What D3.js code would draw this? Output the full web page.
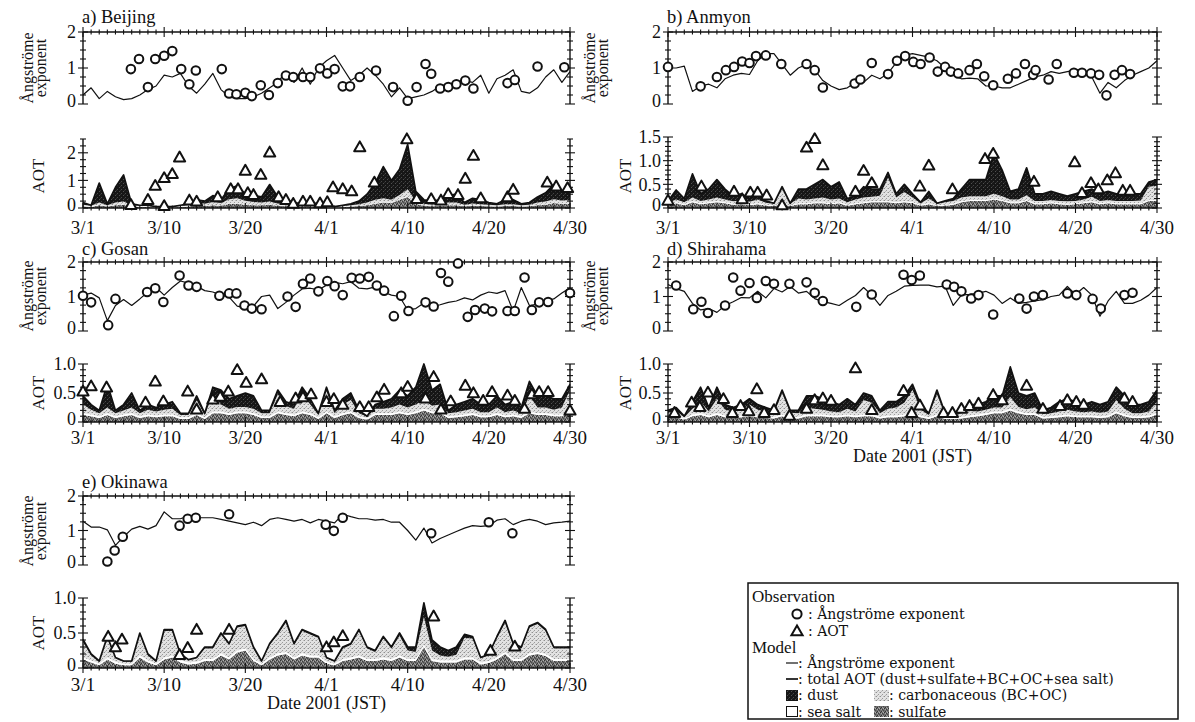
<!DOCTYPE html>
<html>
<head>
<meta charset="utf-8">
<script src="https://cdn.jsdelivr.net/npm/d3@7"></script>
<style>
  body { margin: 0; background: #fff; }
  svg text { font-family: "Liberation Serif", "Times New Roman", serif; fill: #111; }
  svg text.wide { font-family: "DejaVu Serif", serif; }
</style>
</head>
<body>
<svg id="chart" width="1195" height="722"></svg>
<script>
// ---------------- data ----------------
// day index: 0 = 1 March 2001 ... 60 = 30 April 2001 (JST)
const dayIndex = d3.range(0, 61);
const dateTicks = [0, 10, 20, 30, 40, 50, 60];
const dateTickLabels = ["3/1", "3/10", "3/20", "4/1", "4/10", "4/20", "4/30"];
const angTickValues = [0, 1, 2];
const angTickLabels = ["0", "1", "2"];
const aotTicksBeijing = [0, 1, 2];
const aotLabelsBeijing = ["0", "1", "2"];
const aotTicksAnmyon = [0, 0.5, 1.0, 1.5];
const aotLabelsAnmyon = ["0", "0.5", "1.0", "1.5"];
const aotTicksUnit = [0, 0.5, 1.0];
const aotLabelsUnit = ["0", "0.5", "1.0"];

// a) Beijing
const beijingAngModel = [0.25,0.45,0.15,0.35,0.2,0.12,0.15,0.25,0.4,0.5,
  0.8,0.75,0.85,0.5,0.3,0.55,0.85,0.4,0.2,0.15,
  0.15,0.2,0.3,0.45,0.6,0.9,0.6,1.0,0.55,1.0,
  1.2,1.35,1.0,0.65,0.8,1.0,0.8,0.55,0.2,0.45,
  0.15,0.2,0.25,0.35,0.5,0.55,0.6,0.65,0.6,0.8,
  0.3,0.7,0.8,0.95,0.35,0.3,0.45,0.75,0.95,0.6,
  0.9];
const beijingAngObs = [[5.9,0.97],[6.9,1.25],[8.0,0.47],[8.9,1.25],[10.0,1.34],[11.0,1.47],[12.1,0.97],[13.1,0.55],[13.9,0.93],
  [17.1,0.97],[18.0,0.29],[18.9,0.27],[20.0,0.31],[20.8,0.22],[21.9,0.52],[22.9,0.25],[24.0,0.58],[25.0,0.79],[25.9,0.75],
  [27.1,0.75],[28.0,0.75],[29.2,0.99],[30.1,0.85],[31.0,0.97],[32.0,0.49],[32.9,0.49],[34.1,0.75],[36.1,0.93],[38.2,0.47],
  [40.0,0.09],[41.1,0.47],[42.2,1.11],[42.9,0.84],[44.0,0.43],[45.0,0.47],[46.0,0.55],[47.1,0.65],[48.1,0.43],[52.3,0.58],
  [53.2,0.67],[56.0,1.04],[59.3,1.02]];
const beijingAotObs = [[5.9,0.12],[8.0,0.30],[8.9,0.81],[10.0,1.09],[11.0,1.24],[11.9,1.84],[10.0,0.08],[13.1,0.28],[14.0,0.24],
  [16.6,0.40],[18.2,0.69],[19.1,0.69],[20.0,1.36],[20.3,0.55],[21.0,0.48],[21.9,1.21],[23.0,2.02],[24.1,0.40],[25.0,0.30],
  [25.9,0.16],[27.1,0.24],[28.0,0.24],[29.2,0.18],[30.1,0.22],[30.8,0.76],[32.0,0.69],[33.1,0.61],[34.1,2.21],[35.9,0.93],
  [39.9,2.50],[41.1,0.33],[42.9,0.33],[44.1,0.28],[45.0,0.51],[46.2,0.48],[47.1,1.07],[48.1,1.90],[49.0,0.36],[52.3,0.40],
  [53.0,0.67],[57.2,0.93],[58.3,0.79],[59.7,0.73]];
const beijingSulfate = [0.06,0.04,0.1,0.05,0.1,0.12,0.05,0.04,0.04,0.02,
  0.02,0.02,0.04,0.05,0.08,0.07,0.1,0.08,0.15,0.15,
  0.12,0.1,0.1,0.12,0.08,0.06,0.05,0.05,0.05,0.04,
  0.03,0.02,0.03,0.05,0.07,0.1,0.15,0.2,0.18,0.3,
  0.4,0.15,0.08,0.06,0.08,0.1,0.1,0.06,0.08,0.07,
  0.06,0.05,0.07,0.07,0.05,0.06,0.1,0.12,0.18,0.15,
  0.15];
const beijingSeaSalt = [0.02,0.02,0.02,0.02,0.02,0.02,0.02,0.02,0.02,0.01,
  0.01,0.01,0.02,0.02,0.02,0.02,0.02,0.02,0.02,0.02,
  0.02,0.02,0.02,0.02,0.02,0.02,0.02,0.02,0.02,0.02,
  0.02,0.01,0.02,0.02,0.02,0.02,0.02,0.02,0.02,0.02,
  0.03,0.02,0.02,0.02,0.02,0.02,0.02,0.02,0.02,0.02,
  0.02,0.02,0.02,0.02,0.02,0.02,0.02,0.02,0.02,0.02,
  0.02];
const beijingCarbon = [0.04,0.02,0.08,0.03,0.08,0.1,0.03,0.02,0.02,0.01,
  0.01,0.01,0.02,0.04,0.08,0.06,0.1,0.08,0.15,0.18,
  0.12,0.1,0.08,0.1,0.06,0.05,0.04,0.03,0.04,0.03,
  0.02,0.01,0.02,0.03,0.05,0.08,0.13,0.13,0.1,0.15,
  0.25,0.08,0.05,0.04,0.05,0.08,0.08,0.04,0.06,0.05,
  0.04,0.03,0.05,0.05,0.03,0.04,0.08,0.1,0.12,0.1,
  0.12];
const beijingDust = [0.08,0.02,0.7,0.05,0.55,0.96,0.05,0.02,0.02,0.01,
  0.01,0.01,0.02,0.04,0.12,0.1,0.23,0.12,0.38,0.45,
  0.24,0.23,0.2,0.61,0.24,0.17,0.09,0.05,0.09,0.06,
  0.03,0.01,0.03,0.05,0.11,0.3,0.6,1.15,0.7,0.93,
  1.62,0.35,0.15,0.13,0.15,0.25,0.3,0.08,0.19,0.16,
  0.08,0.05,0.16,0.16,0.05,0.08,0.2,0.31,0.53,0.33,
  0.41];

// b) Anmyon
const anmyonAngModel = [1.0,1.0,1.05,0.35,0.5,0.55,0.45,0.7,0.8,0.85,
  0.82,1.2,1.4,1.4,1.1,0.8,1.0,1.1,0.95,0.65,
  0.5,0.4,0.45,0.6,0.6,0.8,0.7,0.85,1.15,1.35,
  1.4,1.35,1.3,1.2,1.0,0.8,0.7,0.72,0.7,0.5,
  0.5,0.45,0.45,0.55,0.65,0.75,0.8,0.9,0.85,0.9,
  0.95,0.95,0.75,0.3,0.6,0.45,0.65,0.8,0.9,1.0,
  1.2];
const anmyonAngObs = [[0,1.03],[4,0.49],[6,0.75],[7.1,0.94],[8.1,1.03],[9.1,1.18],[10,1.14],[10.8,1.33],[12,1.35],[13.9,1.11],
  [17,1.11],[18,0.94],[19,0.46],[22.9,0.57],[23.6,0.68],[25,1.14],[27,0.83],[28.1,1.2],[29.1,1.33],[30.1,1.17],
  [31,1.11],[32.1,1.29],[33.1,0.90],[34,1.03],[34.7,0.9],[35.6,0.85],[37,0.94],[37.9,1.11],[38.8,0.77],[39.9,0.52],
  [41.7,0.70],[42.7,0.85],[43.8,1.11],[44.8,0.81],[45.1,0.94],[46.7,0.68],[47.7,1.11],[49.8,0.87],[50.8,0.87],[51.9,0.85],
  [52.9,0.81],[53.8,0.24],[54.8,0.81],[55.7,0.94],[56.7,0.83]];
const anmyonAotObs = [[0,0.16],[4.1,0.46],[8.1,0.35],[9.1,0.19],[10.1,0.33],[11,0.33],[12.1,0.27],[14,0.06],[17,1.28],[18,1.46],
  [19,0.91],[23,0.35],[24,0.79],[25,0.53],[30.9,0.46],[32,0.90],[34.9,0.40],[38.9,1.04],[39.9,1.15],[44.9,0.56],
  [49.9,0.97],[50.8,0.32],[51.9,0.53],[52.8,0.40],[53.9,0.59],[54.9,0.74],[55.8,0.37],[56.7,0.37]];
const anmyonSulfate = [0.05,0.1,0.06,0.12,0.08,0.1,0.12,0.1,0.07,0.08,
  0.06,0.08,0.05,0.04,0.08,0.04,0.08,0.08,0.1,0.1,
  0.08,0.1,0.05,0.08,0.1,0.12,0.12,0.12,0.1,0.12,
  0.1,0.05,0.08,0.04,0.05,0.07,0.12,0.15,0.15,0.15,
  0.18,0.15,0.1,0.1,0.15,0.08,0.08,0.1,0.08,0.07,
  0.08,0.1,0.12,0.08,0.1,0.08,0.08,0.08,0.08,0.15,
  0.15];
const anmyonSeaSalt = [0.02,0.02,0.02,0.02,0.02,0.02,0.02,0.02,0.02,0.02,
  0.02,0.02,0.02,0.02,0.02,0.02,0.02,0.02,0.02,0.02,
  0.02,0.02,0.02,0.02,0.02,0.02,0.02,0.02,0.02,0.02,
  0.02,0.02,0.02,0.02,0.02,0.02,0.02,0.02,0.02,0.02,
  0.02,0.02,0.02,0.02,0.02,0.02,0.02,0.02,0.02,0.02,
  0.02,0.02,0.02,0.02,0.02,0.02,0.02,0.02,0.02,0.02,
  0.02];
const anmyonCarbon = [0.04,0.06,0.04,0.08,0.05,0.06,0.08,0.06,0.05,0.06,
  0.05,0.08,0.04,0.03,0.3,0.03,0.1,0.08,0.08,0.1,
  0.08,0.08,0.05,0.08,0.1,0.1,0.12,0.5,0.1,0.2,
  0.1,0.03,0.1,0.03,0.05,0.06,0.08,0.08,0.08,0.08,
  0.1,0.08,0.06,0.06,0.1,0.05,0.05,0.05,0.05,0.05,
  0.05,0.06,0.1,0.05,0.05,0.05,0.05,0.05,0.06,0.28,
  0.3];
const anmyonDust = [0.04,0.2,0.08,0.5,0.15,0.22,0.38,0.22,0.11,0.14,
  0.07,0.12,0.04,0.01,0.05,0.01,0.2,0.22,0.3,0.38,
  0.27,0.35,0.08,0.07,0.23,0.16,0.14,0.11,0.08,0.16,
  0.08,0.02,0.15,0.01,0.03,0.05,0.18,0.35,0.35,0.35,
  0.85,0.55,0.17,0.22,0.58,0.15,0.15,0.18,0.15,0.11,
  0.15,0.17,0.16,0.15,0.18,0.15,0.15,0.15,0.14,0.1,
  0.13];

// c) Gosan
const gosanAngModel = [1.04,1.10,0.96,0.30,0.74,0.91,0.74,0.93,1.13,1.26,
  1.04,1.26,1.45,1.39,1.30,1.17,1.13,1.04,0.98,0.72,
  0.67,0.72,1.00,1.04,0.65,0.83,1.04,1.22,1.24,1.19,
  1.33,1.41,1.37,1.43,1.24,1.22,1.28,1.13,1.04,1.00,
  0.61,0.65,0.81,0.70,0.76,0.83,0.87,0.96,0.90,1.04,
  1.13,1.09,1.17,0.57,1.26,0.74,0.78,0.87,0.93,1.10,
  1.25];
const gosanAngObs = [[0,1.02],[1,0.83],[3.1,0.17],[4,0.93],[7.9,1.13],[8.9,1.24],[9.9,0.84],[11.9,1.61],[13,1.32],[14,1.28],
  [16.8,1.02],[18,1.09],[18.9,1.09],[19.9,0.74],[20.8,0.65],[22,0.63],[25.2,1.0],[26.2,0.70],[27.1,1.37],[28,1.52],
  [29,1.15],[30.1,1.45],[31,1.30],[32,1.04],[33.1,1.54],[34.1,1.52],[35.2,1.57],[36.2,1.32],[37.1,1.17],[39.2,1.02],
  [38.3,0.43],[40.1,0.58],[42.2,0.83],[43.2,0.71],[44.1,1.68],[45,1.43],[46.2,1.96],[47.4,0.41],[48.3,0.61],[49.5,0.65],
  [50.4,0.57],[52.3,0.58],[53.2,0.58],[54.4,1.55],[55.3,0.61],[56.2,0.83],[57.3,0.84],[60,1.10]];
const gosanAotObs = [[0,0.53],[1,0.62],[2.9,0.60],[7.7,0.34],[8.9,0.70],[9.9,0.36],[12.9,0.53],[14,0.22],[16,0.39],[16.9,0.44],
  [17.9,0.53],[19,0.90],[20.1,0.68],[22,0.74],[24.3,0.35],[26.2,0.41],[27.1,0.43],[28.1,0.48],[30,0.35],[30.9,0.40],
  [32,0.30],[34.1,0.26],[35.2,0.26],[36.2,0.43],[37.1,0.56],[39.2,0.50],[40,0.61],[42.2,0.41],[43.2,0.78],[44.1,0.22],
  [45.3,0.36],[47.1,0.63],[48.1,0.50],[49.3,0.37],[50.4,0.52],[52.3,0.46],[53.2,0.37],[54.4,0.23],[55.3,0.48],[56.2,0.52],
  [57.3,0.52],[60,0.2]];
const gosanSulfate = [0.12,0.1,0.07,0.12,0.07,0.1,0.12,0.07,0.1,0.08,
  0.1,0.1,0.05,0.05,0.12,0.05,0.15,0.15,0.12,0.15,
  0.15,0.12,0.07,0.07,0.15,0.12,0.1,0.15,0.12,0.05,
  0.15,0.07,0.12,0.15,0.07,0.04,0.12,0.12,0.12,0.15,
  0.12,0.15,0.2,0.15,0.15,0.07,0.08,0.1,0.12,0.08,
  0.08,0.12,0.08,0.1,0.07,0.15,0.12,0.12,0.1,0.1,
  0.18];
const gosanSeaSalt = [0.03,0.03,0.03,0.03,0.03,0.03,0.03,0.03,0.03,0.03,
  0.03,0.03,0.03,0.03,0.03,0.03,0.03,0.03,0.03,0.03,
  0.03,0.03,0.03,0.03,0.03,0.03,0.03,0.03,0.03,0.03,
  0.03,0.03,0.03,0.03,0.03,0.03,0.03,0.03,0.03,0.03,
  0.03,0.03,0.03,0.03,0.03,0.03,0.03,0.03,0.03,0.03,
  0.03,0.03,0.03,0.03,0.03,0.03,0.03,0.03,0.03,0.03,
  0.03];
const gosanCarbon = [0.15,0.08,0.05,0.1,0.05,0.07,0.1,0.05,0.08,0.07,
  0.08,0.1,0.04,0.04,0.22,0.04,0.3,0.12,0.08,0.08,
  0.08,0.08,0.05,0.05,0.3,0.12,0.1,0.32,0.15,0.04,
  0.35,0.05,0.15,0.2,0.05,0.02,0.08,0.08,0.1,0.12,
  0.1,0.12,0.15,0.1,0.12,0.05,0.06,0.07,0.08,0.06,
  0.06,0.1,0.06,0.07,0.05,0.27,0.1,0.1,0.08,0.12,
  0.34];
const gosanDust = [0.15,0.09,0.05,0.4,0.05,0.1,0.25,0.05,0.09,0.07,
  0.09,0.12,0.03,0.03,0.08,0.03,0.12,0.25,0.17,0.19,
  0.24,0.22,0.05,0.05,0.07,0.08,0.07,0.1,0.1,0.03,
  0.07,0.05,0.1,0.12,0.05,0.01,0.07,0.12,0.15,0.25,
  0.2,0.3,0.62,0.27,0.35,0.05,0.13,0.15,0.17,0.13,
  0.13,0.2,0.13,0.15,0.1,0.25,0.2,0.2,0.19,0.15,
  0.1];

// d) Shirahama
const shirahamaAngModel = [1.35,1.23,1.15,0.80,0.61,0.65,0.54,0.74,0.85,0.97,
  0.96,1.15,0.96,1.23,1.13,1.29,1.10,1.15,0.94,0.85,
  0.80,0.74,0.89,1.03,1.26,1.04,0.74,1.03,1.15,1.30,
  1.32,1.33,1.33,1.28,1.30,0.74,1.04,1.06,1.09,1.15,
  1.04,0.80,0.96,0.80,0.83,0.87,0.91,1.00,1.04,1.29,
  1.06,1.26,1.04,0.43,0.87,1.15,0.80,0.80,0.89,1.04,
  1.26];
const shirahamaAngObs = [[1,1.32],[3.1,0.63],[4.1,0.85],[4.9,0.52],[7,0.74],[8,1.55],[8.9,1.17],[10,1.39],[10.9,0.96],[12,1.45],
  [13,1.37],[14.9,1.37],[17,1.41],[18,1.11],[19,0.87],[23.1,0.70],[25,1.06],[28.9,1.63],[29.9,1.48],[30.9,1.61],
  [34.2,1.35],[35.1,1.28],[36,1.15],[37.2,0.94],[38.1,1.04],[39.9,0.48],[43.1,0.94],[44,0.65],[44.9,1.0],[46,1.04],
  [49,1.09],[50.1,1.04],[52.1,0.93],[53.1,0.65],[56,1.04],[57,1.11]];
const shirahamaAotObs = [[0.8,0.16],[2.9,0.34],[3.9,0.26],[4.9,0.51],[6.8,0.40],[7.9,0.16],[8.9,0.28],[9.9,0.19],[10.9,0.57],[11.8,0.16],
  [13,0.21],[14.9,0.11],[17,0.23],[18,0.38],[19,0.41],[20,0.37],[23,0.93],[25,0.21],[28.9,0.54],[29.9,0.16],
  [30.9,0.29],[33.8,0.16],[34.9,0.16],[36,0.23],[37,0.28],[38.1,0.32],[39.9,0.47],[41,0.38],[44,0.63],[46,0.23],
  [48.1,0.28],[49,0.38],[50.1,0.35],[51,0.30],[56,0.41],[57,0.35]];
const shirahamaSulfate = [0.08,0.08,0.04,0.1,0.12,0.08,0.12,0.08,0.07,0.08,
  0.1,0.08,0.07,0.06,0.1,0.06,0.06,0.1,0.1,0.1,
  0.08,0.08,0.1,0.08,0.1,0.1,0.06,0.08,0.08,0.1,
  0.12,0.08,0.05,0.1,0.05,0.05,0.06,0.08,0.1,0.12,
  0.15,0.15,0.2,0.15,0.12,0.12,0.06,0.07,0.08,0.1,
  0.08,0.08,0.08,0.07,0.08,0.15,0.1,0.07,0.07,0.08,
  0.12];
const shirahamaSeaSalt = [0.03,0.03,0.02,0.03,0.03,0.03,0.03,0.03,0.03,0.03,
  0.03,0.03,0.03,0.03,0.03,0.03,0.03,0.03,0.03,0.03,
  0.03,0.03,0.03,0.03,0.03,0.03,0.03,0.03,0.03,0.03,
  0.03,0.03,0.03,0.03,0.03,0.03,0.03,0.03,0.03,0.03,
  0.03,0.03,0.03,0.03,0.03,0.03,0.03,0.03,0.03,0.03,
  0.03,0.03,0.03,0.03,0.03,0.03,0.03,0.03,0.03,0.03,
  0.03];
const shirahamaCarbon = [0.05,0.08,0.02,0.1,0.2,0.07,0.25,0.1,0.08,0.1,
  0.17,0.1,0.08,0.06,0.37,0.07,0.06,0.12,0.1,0.08,
  0.07,0.06,0.1,0.07,0.25,0.2,0.06,0.12,0.14,0.2,
  0.4,0.1,0.04,0.35,0.04,0.04,0.06,0.08,0.05,0.06,
  0.07,0.07,0.2,0.08,0.07,0.1,0.05,0.05,0.07,0.08,
  0.07,0.06,0.07,0.06,0.07,0.2,0.1,0.05,0.05,0.07,
  0.2];
const shirahamaDust = [0.04,0.06,0.02,0.12,0.25,0.07,0.2,0.09,0.07,0.09,
  0.1,0.09,0.07,0.05,0.05,0.04,0.05,0.2,0.22,0.19,
  0.17,0.13,0.17,0.12,0.12,0.12,0.05,0.12,0.1,0.12,
  0.1,0.09,0.03,0.07,0.03,0.03,0.05,0.11,0.12,0.14,
  0.2,0.2,0.52,0.24,0.23,0.25,0.06,0.1,0.17,0.19,
  0.17,0.13,0.17,0.14,0.17,0.22,0.22,0.15,0.15,0.17,
  0.2];

// e) Okinawa
const okinawaAngModel = [1.27,1.10,1.10,1.02,0.57,0.82,1.04,1.12,1.04,1.14,
  1.54,1.34,1.34,1.42,1.37,1.37,1.37,1.32,1.27,1.22,
  1.17,1.24,1.14,1.32,1.37,1.32,1.27,1.32,1.22,1.32,
  1.27,1.22,1.47,1.40,1.34,1.34,1.30,1.32,1.24,1.24,
  1.00,0.72,1.07,0.64,0.77,0.87,0.97,1.07,1.14,1.12,
  1.14,1.30,1.34,1.17,1.27,1.32,1.27,1.17,1.22,1.24,
  1.27];
const okinawaAngObs = [[3,0.10],[3.9,0.42],[4.9,0.82],[11.9,1.14],[12.9,1.34],[13.9,1.37],[18,1.47],[29.9,1.17],[30.9,0.99],[32,1.37],
  [42.9,0.92],[50,1.24],[52.9,0.92]];
const okinawaAotObs = [[3.1,0.45],[4,0.30],[4.8,0.41],[11.9,0.19],[12.9,0.29],[14,0.55],[18,0.55],[30,0.30],[30.9,0.37],[32,0.46],
  [43.2,0.74],[50.2,0.25],[53.2,0.31]];
const okinawaSulfate = [0.12,0.08,0.04,0.12,0.06,0.04,0.04,0.15,0.08,0.04,
  0.12,0.15,0.08,0.05,0.06,0.1,0.1,0.18,0.12,0.22,
  0.25,0.1,0.04,0.12,0.18,0.2,0.12,0.18,0.15,0.15,
  0.06,0.04,0.1,0.12,0.15,0.1,0.1,0.12,0.1,0.15,
  0.1,0.1,0.3,0.1,0.08,0.08,0.08,0.12,0.12,0.05,
  0.07,0.12,0.2,0.1,0.1,0.18,0.2,0.17,0.1,0.1,
  0.1];
const okinawaSeaSalt = [0.03,0.03,0.02,0.03,0.03,0.02,0.02,0.03,0.03,0.02,
  0.03,0.03,0.03,0.03,0.03,0.03,0.03,0.03,0.03,0.03,
  0.03,0.03,0.02,0.03,0.03,0.03,0.03,0.03,0.03,0.03,
  0.03,0.02,0.03,0.03,0.03,0.03,0.03,0.03,0.03,0.03,
  0.03,0.03,0.03,0.03,0.03,0.03,0.03,0.03,0.03,0.03,
  0.03,0.03,0.03,0.03,0.03,0.03,0.03,0.03,0.03,0.03,
  0.03];
const okinawaCarbon = [0.22,0.07,0.03,0.28,0.05,0.03,0.03,0.3,0.07,0.03,
  0.38,0.35,0.07,0.03,0.05,0.15,0.15,0.27,0.18,0.33,
  0.32,0.15,0.03,0.18,0.27,0.42,0.18,0.32,0.3,0.25,
  0.05,0.03,0.15,0.18,0.35,0.15,0.1,0.28,0.15,0.28,
  0.12,0.1,0.4,0.12,0.07,0.05,0.08,0.28,0.27,0.06,
  0.08,0.28,0.42,0.2,0.15,0.37,0.4,0.33,0.15,0.15,
  0.15];
const okinawaDust = [0.04,0.02,0.01,0.02,0.01,0.01,0.01,0.02,0.02,0.01,
  0.02,0.02,0.02,0.01,0.01,0.02,0.02,0.02,0.02,0.02,
  0.02,0.02,0.01,0.02,0.02,0.03,0.02,0.02,0.02,0.02,
  0.01,0.01,0.02,0.02,0.02,0.02,0.02,0.02,0.02,0.04,
  0.05,0.07,0.2,0.15,0.12,0.09,0.11,0.05,0.03,0.01,
  0.02,0.02,0.03,0.02,0.02,0.02,0.02,0.02,0.02,0.02,
  0.02];

// ---------------- drawing ----------------
const svg = d3.select("#chart");
svg.append("rect").attr("width", 1195).attr("height", 722).attr("fill", "#fff");

// stipple textures for the aerosol components
const defs = svg.append("defs");
function stipple(id, base, dots) {
  const p = defs.append("pattern").attr("id", id)
    .attr("width", 4).attr("height", 4).attr("patternUnits", "userSpaceOnUse");
  p.append("rect").attr("width", 4).attr("height", 4).attr("fill", base);
  dots.forEach(([x, y, c]) => p.append("rect").attr("x", x).attr("y", y)
    .attr("width", 1).attr("height", 1).attr("fill", c));
}
stipple("pat-sulfate", "#6f6f6f", [[0,0,"#333"],[2,1,"#3c3c3c"],[1,3,"#333"],[3,2,"#4a4a4a"],[1,1,"#a8a8a8"],[3,0,"#b0b0b0"],[2,3,"#a0a0a0"]]);
stipple("pat-carbon", "#e2e2e2", [[0,0,"#8f8f8f"],[2,2,"#9a9a9a"],[3,0,"#c0c0c0"],[1,3,"#b8b8b8"]]);
stipple("pat-dust", "#161616", [[1,1,"#474747"],[3,3,"#505050"],[0,2,"#2e2e2e"]]);

const componentKeys = ["sulfate", "seasalt", "carbon", "dust"];
const componentFill = {
  sulfate: "url(#pat-sulfate)",
  seasalt: "#ffffff",
  carbon: "url(#pat-carbon)",
  dust: "url(#pat-dust)"
};

const columns = [{ x0: 83, x1: 570 }, { x0: 668, x1: 1157 }];
const rowsLayout = [
  { angTop: 32, angBottom: 104, aotBottom: 208, titleY: 23, tickY: 234, angLabelY: 68, aotLabelY: 176 },
  { angTop: 262, angBottom: 331, aotBottom: 422, titleY: 255, tickY: 444, angLabelY: 296, aotLabelY: 393 },
  { angTop: 496, angBottom: 565, aotBottom: 668, titleY: 488, tickY: 691, angLabelY: 531, aotLabelY: 633 }
];
const yLabelX = [
  { ang1: 27, ang2: 40, aot: 38 },
  { ang1: 589, ang2: 602, aot: 625 }
];

const stations = [
  { title: "a) Beijing", col: 0, row: 0, angModel: beijingAngModel, angObs: beijingAngObs, aotObs: beijingAotObs,
    sulfate: beijingSulfate, seasalt: beijingSeaSalt, carbon: beijingCarbon, dust: beijingDust,
    aotMax: 2.5, aotTop: 139, aotStep: 0.25, aotTicks: aotTicksBeijing, aotLabels: aotLabelsBeijing },
  { title: "b) Anmyon", col: 1, row: 0, angModel: anmyonAngModel, angObs: anmyonAngObs, aotObs: anmyonAotObs,
    sulfate: anmyonSulfate, seasalt: anmyonSeaSalt, carbon: anmyonCarbon, dust: anmyonDust,
    aotMax: 1.5, aotTop: 137, aotStep: 0.1, aotTicks: aotTicksAnmyon, aotLabels: aotLabelsAnmyon },
  { title: "c) Gosan", col: 0, row: 1, angModel: gosanAngModel, angObs: gosanAngObs, aotObs: gosanAotObs,
    sulfate: gosanSulfate, seasalt: gosanSeaSalt, carbon: gosanCarbon, dust: gosanDust,
    aotMax: 1.0, aotTop: 364, aotStep: 0.1, aotTicks: aotTicksUnit, aotLabels: aotLabelsUnit },
  { title: "d) Shirahama", col: 1, row: 1, angModel: shirahamaAngModel, angObs: shirahamaAngObs, aotObs: shirahamaAotObs,
    sulfate: shirahamaSulfate, seasalt: shirahamaSeaSalt, carbon: shirahamaCarbon, dust: shirahamaDust,
    aotMax: 1.0, aotTop: 364, aotStep: 0.1, aotTicks: aotTicksUnit, aotLabels: aotLabelsUnit, xlabel: true },
  { title: "e) Okinawa", col: 0, row: 2, angModel: okinawaAngModel, angObs: okinawaAngObs, aotObs: okinawaAotObs,
    sulfate: okinawaSulfate, seasalt: okinawaSeaSalt, carbon: okinawaCarbon, dust: okinawaDust,
    aotMax: 1.0, aotTop: 598, aotStep: 0.1, aotTicks: aotTicksUnit, aotLabels: aotLabelsUnit, xlabel: true }
];

const ink = "#111";

// horizontal frame with one tick per day, longer ticks at labelled dates
function dayFrame(g, x, y) {
  g.append("line").attr("x1", x(0)).attr("x2", x(60)).attr("y1", y).attr("y2", y)
    .attr("stroke", ink).attr("stroke-width", 1.4);
  g.selectAll(null).data(dayIndex).join("line")
    .attr("x1", d => x(d)).attr("x2", d => x(d))
    .attr("y1", d => y - (dateTicks.includes(d) ? 5 : 2.5))
    .attr("y2", d => y + (dateTicks.includes(d) ? 5 : 2.5))
    .attr("stroke", ink).attr("stroke-width", 1.1);
}
// vertical axis line with crossing ticks
function valueAxis(g, xPos, y, max, step, majors) {
  g.append("line").attr("x1", xPos).attr("x2", xPos).attr("y1", y(0)).attr("y2", y(max))
    .attr("stroke", ink).attr("stroke-width", 1.4);
  const n = Math.round(max / step);
  const vals = d3.range(0, n + 1).map(k => k * step);
  const isMajor = v => majors.some(m => Math.abs(m - v) < 1e-6);
  g.selectAll(null).data(vals).join("line")
    .attr("y1", d => y(d)).attr("y2", d => y(d))
    .attr("x1", d => xPos - (isMajor(d) ? 5 : 3))
    .attr("x2", d => xPos + (isMajor(d) ? 5 : 3))
    .attr("stroke", ink).attr("stroke-width", 1.1);
}
function valueLabels(g, xPos, y, values, labels) {
  g.selectAll(null).data(values).join("text")
    .attr("x", xPos - 7).attr("y", d => y(d) - (d === 0 ? 3 : 0)).attr("dy", "0.35em")
    .attr("text-anchor", "end").attr("font-size", 18)
    .text((d, i) => labels[i]);
}
function rotatedLabel(g, x, y, text, size) {
  g.append("text").attr("transform", `translate(${x},${y}) rotate(-90)`)
    .attr("text-anchor", "middle").attr("dy", "0.35em").attr("font-size", size).text(text);
}
const trianglePath = "M0,-5.6L5.6,4.2L-5.6,4.2Z";

stations.forEach(st => {
  const col = columns[st.col];
  const row = rowsLayout[st.row];
  const x = d3.scaleLinear().domain([0, 60]).range([col.x0, col.x1]);
  const yA = d3.scaleLinear().domain([0, 2]).range([row.angBottom, row.angTop]);
  const yT = d3.scaleLinear().domain([0, st.aotMax]).range([row.aotBottom, st.aotTop]);
  const g = svg.append("g");

  // ----- AOT: stacked model components -----
  const table = dayIndex.map(i => ({
    day: i, sulfate: st.sulfate[i], seasalt: st.seasalt[i], carbon: st.carbon[i], dust: st.dust[i]
  }));
  const series = d3.stack().keys(componentKeys)(table);
  const area = d3.area().x(d => x(d.data.day)).y0(d => yT(d[0])).y1(d => yT(d[1]));
  g.append("g").selectAll("path").data(series).join("path")
    .attr("d", area).attr("fill", d => componentFill[d.key]).attr("stroke", "none");
  const totalLine = d3.line().x(d => x(d.data.day)).y(d => yT(d[1]));
  g.append("path").attr("d", totalLine(series[series.length - 1]))
    .attr("fill", "none").attr("stroke", ink).attr("stroke-width", 1.7).attr("stroke-linejoin", "round");

  // ----- Angstrom exponent: model line -----
  const angLine = d3.line().x((d, i) => x(i)).y(d => yA(d));
  g.append("path").attr("d", angLine(st.angModel))
    .attr("fill", "none").attr("stroke", ink).attr("stroke-width", 1.2).attr("stroke-linejoin", "round");

  // ----- frames and axes -----
  dayFrame(g, x, yA(2));
  valueAxis(g, x(0), yA, 2, 0.25, angTickValues);
  valueAxis(g, x(60), yA, 2, 0.25, angTickValues);
  valueLabels(g, x(0), yA, angTickValues, angTickLabels);

  dayFrame(g, x, yT(0));
  valueAxis(g, x(0), yT, st.aotMax, st.aotStep, st.aotTicks);
  valueAxis(g, x(60), yT, st.aotMax, st.aotStep, st.aotTicks);
  valueLabels(g, x(0), yT, st.aotTicks, st.aotLabels);

  g.selectAll(null).data(dateTicks).join("text")
    .attr("x", d => x(d)).attr("y", row.tickY).attr("text-anchor", "middle").attr("font-size", 19)
    .text((d, i) => dateTickLabels[i]);

  // ----- observations -----
  g.append("g").selectAll("circle").data(st.angObs).join("circle")
    .attr("cx", d => x(d[0])).attr("cy", d => yA(d[1])).attr("r", 4.3)
    .attr("fill", "#fff").attr("stroke", ink).attr("stroke-width", 2);
  g.append("g").selectAll("path").data(st.aotObs).join("path")
    .attr("d", trianglePath).attr("transform", d => `translate(${x(d[0])},${yT(d[1])})`)
    .attr("fill", "#fff").attr("stroke", ink).attr("stroke-width", 2).attr("stroke-linejoin", "round");

  // ----- titles and axis names -----
  g.append("text").attr("x", col.x0 - 1).attr("y", row.titleY).attr("font-size", 18.5).text(st.title);
  const lx = yLabelX[st.col];
  rotatedLabel(g, lx.ang1, row.angLabelY, "Ångströme", 16);
  rotatedLabel(g, lx.ang2, row.angLabelY, "exponent", 16);
  rotatedLabel(g, lx.aot, row.aotLabelY, "AOT", 17);
  if (st.xlabel) {
    g.append("text").attr("x", (col.x0 + col.x1) / 2).attr("y", row.tickY + 18)
      .attr("text-anchor", "middle").attr("font-size", 18).text("Date 2001 (JST)");
  }
});

// ---------------- legend ----------------
const lg = svg.append("g");
lg.append("rect").attr("x", 748).attr("y", 583).attr("width", 430).attr("height", 136)
  .attr("fill", "#fff").attr("stroke", ink).attr("stroke-width", 1.5);
const heading = (x, y, s) => lg.append("text").attr("x", x).attr("y", y).attr("dy", "0.35em").attr("font-size", 17).text(s);
const item = (x, y, s) => lg.append("text").attr("class", "wide").attr("x", x).attr("y", y).attr("dy", "0.35em").attr("font-size", 14).text(s);
heading(752, 596, "Observation");
lg.append("circle").attr("cx", 797).attr("cy", 614).attr("r", 4.6)
  .attr("fill", "#fff").attr("stroke", ink).attr("stroke-width", 2);
item(808, 614, ": Ångströme exponent");
lg.append("path").attr("d", trianglePath).attr("transform", "translate(797,631)")
  .attr("fill", "#fff").attr("stroke", ink).attr("stroke-width", 2);
item(808, 631, ": AOT");
heading(752, 647, "Model");
lg.append("line").attr("x1", 786).attr("x2", 798).attr("y1", 663).attr("y2", 663).attr("stroke", ink).attr("stroke-width", 1.2);
item(798, 663, ": Ångströme exponent");
lg.append("line").attr("x1", 786).attr("x2", 798).attr("y1", 679).attr("y2", 679).attr("stroke", ink).attr("stroke-width", 1.7);
item(798, 679, ": total AOT (dust+sulfate+BC+OC+sea salt)");
lg.append("rect").attr("x", 786).attr("y", 690).attr("width", 12).attr("height", 11).attr("fill", componentFill.dust);
item(798, 695.5, ": dust");
lg.append("rect").attr("x", 874).attr("y", 690).attr("width", 15).attr("height", 11).attr("fill", componentFill.carbon);
item(889, 695.5, ": carbonaceous (BC+OC)");
lg.append("rect").attr("x", 786.5).attr("y", 706.5).attr("width", 11).attr("height", 10)
  .attr("fill", "#fff").attr("stroke", ink).attr("stroke-width", 1);
item(798, 712, ": sea salt");
lg.append("rect").attr("x", 874).attr("y", 706).attr("width", 15).attr("height", 11).attr("fill", componentFill.sulfate);
item(889, 712, ": sulfate");
</script>
</body>
</html>
